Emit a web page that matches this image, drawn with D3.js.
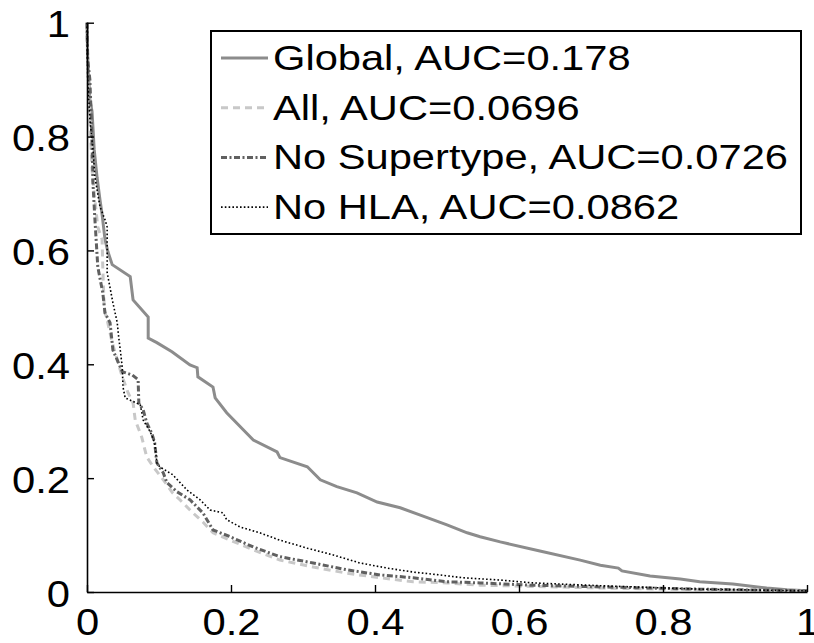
<!DOCTYPE html>
<html>
<head>
<meta charset="utf-8">
<script src="https://cdn.jsdelivr.net/npm/d3@7"></script>
<style>
  html, body { margin: 0; padding: 0; background: #fff; }
  svg { display: block; }
  text { font-family: "Liberation Sans", Arial, Helvetica, sans-serif; fill: #000; }
</style>
</head>
<body>
<div id="chart"></div>
<script>
// ---------------- data ----------------
const seriesNames = ["Global", "All", "No Supertype", "No HLA"];
const aucValues = ["0.178", "0.0696", "0.0726", "0.0862"];
const xTicks = [0, 0.2, 0.4, 0.6, 0.8, 1];
const yTicks = [0, 0.2, 0.4, 0.6, 0.8, 1];
const xTickLabels = ["0", "0.2", "0.4", "0.6", "0.8", "1"];
const yTickLabels = ["0", "0.2", "0.4", "0.6", "0.8", "1"];

const globalX = [0,0.001,0.004,0.007,0.010,0.014,0.018,0.021,0.025,0.029,0.035,0.060,0.064,0.085,0.085,0.097,0.118,0.143,0.153,0.154,0.175,0.178,0.194,0.217,0.231,0.264,0.268,0.306,0.324,0.347,0.375,0.403,0.435,0.463,0.500,0.528,0.546,0.574,0.629,0.685,0.713,0.738,0.743,0.782,0.824,0.851,0.897,0.944,0.972,1.0];
const globalY = [1.0,0.935,0.865,0.844,0.777,0.728,0.689,0.663,0.619,0.598,0.575,0.554,0.513,0.483,0.446,0.438,0.422,0.399,0.394,0.378,0.360,0.341,0.315,0.285,0.267,0.246,0.236,0.220,0.197,0.185,0.174,0.158,0.148,0.135,0.118,0.104,0.097,0.088,0.072,0.056,0.047,0.042,0.037,0.028,0.023,0.018,0.014,0.007,0.004,0.002];

const allX = [0,0.001,0.004,0.007,0.011,0.015,0.021,0.022,0.024,0.028,0.032,0.035,0.049,0.057,0.064,0.067,0.076,0.083,0.092,0.106,0.119,0.129,0.147,0.161,0.175,0.199,0.231,0.268,0.314,0.361,0.407,0.453,0.500,0.546,0.713,0.851,1.0];
const allY = [1.0,0.917,0.830,0.742,0.689,0.641,0.619,0.566,0.496,0.478,0.455,0.438,0.378,0.350,0.332,0.302,0.272,0.237,0.220,0.197,0.174,0.162,0.139,0.123,0.104,0.091,0.074,0.056,0.044,0.033,0.025,0.018,0.016,0.012,0.007,0.004,0.002];

const noSupertypeX = [0,0.001,0.004,0.006,0.008,0.008,0.011,0.015,0.022,0.025,0.032,0.036,0.049,0.063,0.071,0.072,0.078,0.083,0.090,0.094,0.097,0.106,0.111,0.125,0.143,0.161,0.175,0.199,0.231,0.268,0.314,0.361,0.407,0.453,0.500,0.546,0.615,0.713,0.851,1.0];
const noSupertypeY = [1.0,0.935,0.900,0.830,0.742,0.724,0.654,0.571,0.525,0.490,0.473,0.425,0.387,0.381,0.373,0.332,0.320,0.297,0.279,0.262,0.227,0.209,0.192,0.176,0.162,0.139,0.109,0.097,0.079,0.062,0.051,0.039,0.030,0.025,0.018,0.016,0.012,0.009,0.005,0.002];

const noHlaX = [0,0.001,0.004,0.008,0.011,0.018,0.025,0.028,0.028,0.036,0.042,0.044,0.049,0.050,0.053,0.074,0.078,0.088,0.094,0.097,0.101,0.119,0.139,0.157,0.171,0.189,0.194,0.213,0.240,0.268,0.306,0.342,0.379,0.417,0.453,0.490,0.522,0.574,0.619,0.713,0.851,1.0];
const noHlaY = [1.0,0.900,0.830,0.782,0.729,0.677,0.654,0.641,0.561,0.508,0.473,0.448,0.395,0.360,0.341,0.329,0.302,0.281,0.262,0.227,0.220,0.206,0.179,0.162,0.144,0.139,0.127,0.114,0.104,0.091,0.077,0.065,0.051,0.042,0.035,0.030,0.025,0.021,0.016,0.011,0.005,0.002];

// ---------------- layout ----------------
const W = 814, H = 643;
const x0 = 87, x1 = 807, yTop = 22.7, yBot = 592;

const svg = d3.select("#chart").append("svg")
  .attr("width", W).attr("height", H)
  .style("background", "#fff");

const x = d3.scaleLinear().domain([0, 1]).range([x0, x1]);
const y = d3.scaleLinear().domain([0, 1]).range([yBot, yTop]);

const styles = [
  { color: "#8c8c8c", width: 3, dash: null },
  { color: "#c8c8c8", width: 3, dash: "7,5" },
  { color: "#606060", width: 3, dash: "6,2.5,2,2.5" },
  { color: "#000000", width: 1.6, dash: "1.6,2.2" }
];

const seriesData = [
  globalX.map((v, i) => [v, globalY[i]]),
  allX.map((v, i) => [v, allY[i]]),
  noSupertypeX.map((v, i) => [v, noSupertypeY[i]]),
  noHlaX.map((v, i) => [v, noHlaY[i]])
];

const line = d3.line().x(d => x(d[0])).y(d => y(d[1]));

seriesData.forEach((pts, i) => {
  const s = styles[i];
  svg.append("path")
    .datum(pts)
    .attr("d", line)
    .attr("fill", "none")
    .attr("stroke", s.color)
    .attr("stroke-width", s.width)
    .attr("stroke-linejoin", "miter")
    .attr("stroke-dasharray", s.dash);
});

// ---------------- axes ----------------
const tickFs = 37, tickSx = 1.13;

const xAxis = d3.axisBottom(x).tickValues(xTicks)
  .tickFormat((d, i) => xTickLabels[i])
  .tickSize(-7).tickSizeOuter(0);
const gx = svg.append("g").attr("transform", `translate(0,${yBot})`).call(xAxis);
gx.select(".domain").attr("stroke", "#000").attr("stroke-width", 1.6);
gx.selectAll(".tick line").attr("stroke", "#000").attr("stroke-width", 1.4);
gx.selectAll(".tick text")
  .attr("font-size", tickFs)
  .attr("y", 0).attr("dy", null)
  .attr("transform", `translate(0,43) scale(${tickSx},1)`)
  .attr("text-anchor", "middle")
  .style("font-family", '"Liberation Sans", Arial, sans-serif')
  .attr("fill", "#000");

const yAxis = d3.axisLeft(y).tickValues(yTicks)
  .tickFormat((d, i) => yTickLabels[i])
  .tickSize(-7).tickSizeOuter(0);
const gy = svg.append("g").attr("transform", `translate(${x0},0)`).call(yAxis);
gy.select(".domain").attr("stroke", "#000").attr("stroke-width", 1.6);
gy.selectAll(".tick line").attr("stroke", "#000").attr("stroke-width", 1.4);
gy.selectAll(".tick text")
  .attr("font-size", tickFs)
  .attr("x", 0).attr("dy", null)
  .attr("transform", `translate(-17,14) scale(${tickSx},1)`)
  .attr("text-anchor", "end")
  .style("font-family", '"Liberation Sans", Arial, sans-serif')
  .attr("fill", "#000");

// ---------------- legend ----------------
const leg = svg.append("g");
leg.append("rect")
  .attr("x", 211).attr("y", 31)
  .attr("width", 590).attr("height", 203)
  .attr("fill", "#fff").attr("stroke", "#000").attr("stroke-width", 2);

const legFs = 35, legSx = 1.19;
seriesNames.forEach((name, i) => {
  const s = styles[i];
  const ly = 58 + i * 49.7;
  leg.append("line")
    .attr("x1", 221).attr("x2", 268)
    .attr("y1", ly).attr("y2", ly)
    .attr("stroke", s.color)
    .attr("stroke-width", s.width)
    .attr("stroke-dasharray", s.dash);
  leg.append("text")
    .attr("transform", `translate(273,${ly + 12}) scale(${legSx},1)`)
    .attr("font-size", legFs)
    .text(`${name}, AUC=${aucValues[i]}`);
});
</script>
</body>
</html>
